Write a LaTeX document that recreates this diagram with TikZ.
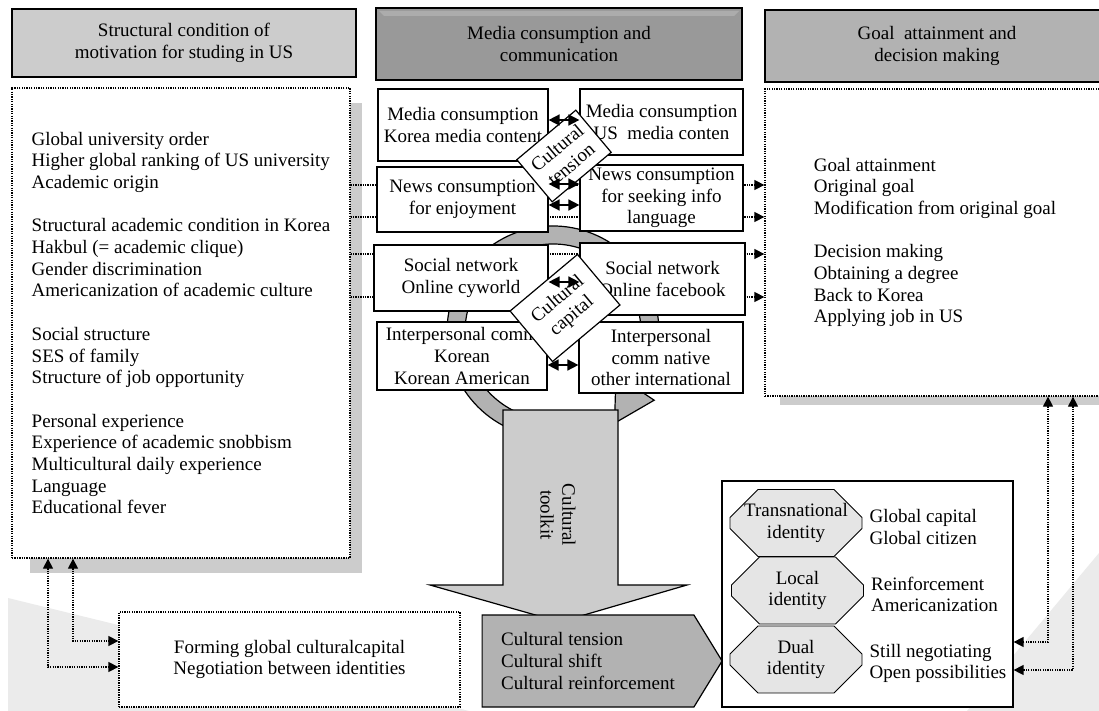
\documentclass[tikz,border=0pt]{standalone}
\usepackage{fontspec}
\setmainfont{Liberation Serif}
\usetikzlibrary{positioning,arrows.meta,shapes.misc,shapes.symbols}
\tikzset{head node/.style={draw,line width=1.6pt,inner sep=0pt,align=center},
  media node/.style={draw,fill=white,line width=1.2pt,inner sep=0pt,align=center},
  dot box/.style={draw,fill=white,line width=1.3pt,dash pattern=on 1.3pt off 1.1pt,inner sep=0pt},
  tilt node/.style={draw,fill=white,line width=1.2pt,inner sep=0pt,align=center,rotate=40},
  id node/.style={chamfered rectangle,chamfered rectangle xsep=14pt,chamfered rectangle ysep=14pt,draw,fill=gray!20,line width=0.9pt,inner sep=0pt,align=center,minimum width=132pt,minimum height=60pt},
  side text/.style={inner sep=0pt,align=left},
  dot line/.style={line width=1.3pt,dash pattern=on 1.3pt off 1.1pt},
  dbl/.style={{Triangle[length=11pt,width=11pt]}-{Triangle[length=11pt,width=11pt]},line width=1.6pt},}

\begin{document}
\begin{tikzpicture}[x=1pt,y=-1pt,font=\fontsize{19pt}{21.7pt}\selectfont,>={Triangle[length=10pt,width=10pt]}]
    \useasboundingbox (0,0) rectangle (1099,711);
    \fill[white] (0,0) rectangle (1099,711);
    % light background corners
    \fill[gray!16] (8,598) -- (469,711) -- (8,711) -- cycle;
    \fill[gray!16] (1099,553) -- (967,711) -- (1099,711) -- cycle;
    % shadows
    \fill[gray!40] (30,103) rectangle (362,573);
    \fill[gray!40] (780,104) rectangle (1110,405);

    \node[head node,fill=gray!40,minimum width=344pt,minimum height=68pt] (hstruct) at (184,43) {Structural condition of\\motivation for studing in US};
    \node[head node,fill=gray!80,minimum width=366pt,minimum height=72pt] (hmedia) at (559,44) {Media consumption and\\communication};
    \fill[gray!65] (379,11) -- (739,11) -- (734,16) -- (384,16) -- cycle;
    \node[head node,fill=gray!60,minimum width=344pt,minimum height=72pt] (hgoal) at (937,46) {Goal\ \ attainment and\\decision making};

    \node[dot box,minimum width=338pt,minimum height=470pt,align=left] (lbox) at (181,323) {Global university order\\Higher global ranking of US university\\Academic origin\\[21.7pt]
      Structural academic condition in Korea\\Hakbul (= academic clique)\\Gender discrimination\\Americanization of academic culture\\[21.7pt]
      Social structure\\SES of family\\Structure of job opportunity\\[21.7pt]
      Personal experience\\Experience of academic snobbism\\Multicultural daily experience\\Language\\Educational fever};
    \node[dot box,minimum width=340pt,minimum height=307pt,align=left] (rbox) at (935,242.5) {Goal attainment\\Original goal\\Modification from original goal\\[21.7pt]
      Decision making\\Obtaining a degree\\Back to Korea\\Applying job in US};

    % dotted links behind the media boxes
    \foreach \ly in {185,217,254,297}
      \draw[dot line,->] ([yshift={323-\ly}]lbox.east) -- ([yshift={242.5-\ly}]rbox.west);

    % cycle arrow
    \begin{scope}[shift={(553,332)}]
    \draw[fill=gray!60,line width=1.2pt] (115:106) arc[start angle=115,end angle=394,radius=106] -- (394:122) -- (416:110) -- (394:76) -- (394:88) arc[start angle=394,end angle=115,radius=88] -- cycle;
    \end{scope}
    \draw[fill=gray!40,line width=1.2pt] (503,410) -- (618,410) -- (618,585) -- (687,585) -- (560,622) -- (430,585) -- (503,585) -- cycle;
    \node[rotate=-90,align=center,inner sep=0pt] (toolkit) at (558,515) {Cultural\\toolkit};

    \node[media node,minimum width=170pt,minimum height=72pt] (medkr) at (463,125) {Media consumption\\Korea media content};
    \node[media node,minimum width=163pt,minimum height=66pt] (medus) at (661.5,122) {Media consumption\\US\ \ media conten};
    \node[media node,minimum width=171pt,minimum height=65pt] (newsfun) at (462.5,199.5) {News consumption\\for enjoyment};
    \node[media node,minimum width=163pt,minimum height=66pt] (newsinfo) at (661.5,198) {News consumption\\for seeking info\\language};
    \node[media node,minimum width=174pt,minimum height=66pt] (snkr) at (461,278) {Social network\\Online cyworld};
    \node[media node,minimum width=165pt,minimum height=72pt] (snus) at (662.5,279) {Social network\\Online facebook};
    \node[media node,minimum width=170pt,minimum height=68pt] (commkr) at (462,356) {Interpersonal comm\\Korean\\Korean American};
    \node[media node,minimum width=164pt,minimum height=71pt] (commus) at (661,357.5) {Interpersonal\\comm native\\other international};

    \node[tilt node,minimum width=77pt,minimum height=55pt] (ctension) at (564,156) {Cultural\\tension};
    \node[tilt node,minimum width=88pt,minimum height=66pt] (ccapital) at (565,308) {Cultural\\capital};

    \draw[dbl] ([yshift=5pt]medkr.east) -- ([yshift=2pt]medus.west);
    \draw[dbl] ([yshift=15.5pt]newsfun.east) -- ([yshift=14pt]newsinfo.west);
    \draw[dbl] ([yshift=-5.5pt]newsfun.east) -- ([yshift=-7pt]newsinfo.west);
    \draw[dbl] ([yshift=-4pt]snkr.east) -- ([yshift=-3pt]snus.west);
    \draw[dbl] ([yshift=-9pt]commkr.east) -- ([yshift=-7.5pt]commus.west);

    \node[dot box,minimum width=341pt,minimum height=95pt,align=center] (fbox) at (289.5,659.5) {Forming global culturalcapital\\Negotiation between identities};
    \node[signal,signal to=east,signal pointer angle=117,draw,fill=gray!60,line width=1.2pt,minimum width=240pt,minimum height=92pt,inner sep=0pt,align=left] (shift) at (588,661) {Cultural tension\\Cultural shift\\Cultural reinforcement};

    \node[draw,fill=white,line width=1.2pt,minimum width=291pt,minimum height=226pt] (ibox) at (867.5,594) {};
    \node[id node] (trans) at (796,523) {Transnational\\identity};
    \node[id node] (local) at (797.5,590.5) {Local\\identity};
    \node[id node] (dual) at (796,659.5) {Dual\\identity};
    \node[side text] (transtxt) [right=7pt of trans,yshift=-4pt] {Global capital\\Global citizen};
    \node[side text] (localtxt) [right=7pt of local,yshift=-4pt] {Reinforcement\\Americanization};
    \node[side text] (dualtxt) [right=7pt of dual,yshift=-4pt] {Still negotiating\\Open possibilities};

    \draw[dot line,<->] ([xshift=-133pt]lbox.south) |- ([yshift=-7.5pt]fbox.west);
    \draw[dot line,<->] ([xshift=-108pt]lbox.south) |- ([yshift=18.5pt]fbox.west);
    \draw[dot line,<->] ([xshift=113pt]rbox.south) |- ([yshift=-48pt]ibox.east);
    \draw[dot line,<->] ([xshift=138pt]rbox.south) |- ([yshift=-76pt]ibox.east);
\end{tikzpicture}
\end{document}
